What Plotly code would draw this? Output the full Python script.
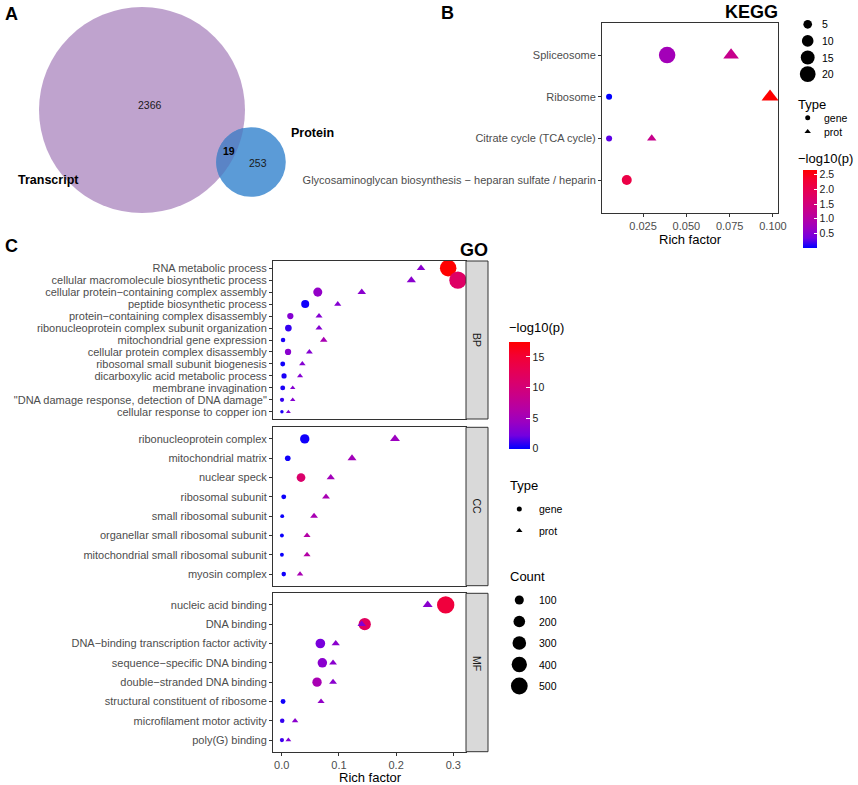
import math
import plotly.graph_objects as go

W, H = 858, 785
FONT = "Liberation Sans, Arial, Helvetica, sans-serif"

# ---------------- Panel A : Venn ----------------
venn_names = ["Transcript", "Protein"]
venn_only_transcript = 2366
venn_overlap = 19
venn_only_protein = 253

# ---------------- Panel B : KEGG ----------------
kegg_terms = ["Spliceosome", "Ribosome", "Citrate cycle (TCA cycle)",
              "Glycosaminoglycan biosynthesis − heparan sulfate / heparin"]
kegg_gene_rich = [0.0389, 0.0054, 0.0054, 0.0156]
kegg_gene_count = [22, 2, 2, 7]
kegg_gene_logp = [0.78, 0.0, 0.27, 2.1]
kegg_prot_rich = [0.0758, 0.0983, 0.0300, None]
kegg_prot_count = [10, 12, 3, None]
kegg_prot_logp = [1.28, 2.66, 1.30, None]
kegg_size_breaks = [5, 10, 15, 20]
kegg_color_ticks = [0.5, 1.0, 1.5, 2.0, 2.5]

# ---------------- Panel C : GO ----------------
bp_terms = ["RNA metabolic process", "cellular macromolecule biosynthetic process",
            "cellular protein−containing complex assembly", "peptide biosynthetic process",
            "protein−containing complex disassembly", "ribonucleoprotein complex subunit organization",
            "mitochondrial gene expression", "cellular protein complex disassembly",
            "ribosomal small subunit biogenesis", "dicarboxylic acid metabolic process",
            "membrane invagination", "\"DNA damage response, detection of DNA damage\"",
            "cellular response to copper ion"]
bp_gene_rich = [0.291, 0.308, 0.063, 0.041, 0.015, 0.0116, 0.0023, 0.011, 0.0017, 0.004, 0.0017, 0.0005, 0.0003]
bp_gene_count = [480, 530, 100, 70, 31, 39, 8, 31, 11, 15, 11, 5, 1]
bp_gene_logp = [17.5, 11.5, 4.0, 0.3, 3.2, 1.0, 0.5, 3.5, 0.3, 0.5, 0.5, 1.0, 0.5]
bp_prot_rich = [0.2435, 0.2266, 0.1399, 0.0979, 0.0652, 0.0652, 0.0734, 0.0483, 0.036, 0.032, 0.0192, 0.0192, 0.0116]
bp_prot_count = [33, 43, 33, 16, 16, 16, 21, 14, 11, 8, 4, 4, 2]
bp_prot_logp = [3.5, 3.5, 3.5, 3.2, 3.2, 3.2, 5.5, 3.2, 3.2, 3.2, 3.2, 3.2, 2.8]

cc_terms = ["ribonucleoprotein complex", "mitochondrial matrix", "nuclear speck", "ribosomal subunit",
            "small ribosomal subunit", "organellar small ribosomal subunit",
            "mitochondrial small ribosomal subunit", "myosin complex"]
cc_gene_rich = [0.0402, 0.0105, 0.0337, 0.0035, 0.0008, 0.0003, 0.0003, 0.0035]
cc_gene_count = [110, 21, 90, 11, 3, 3, 3, 8]
cc_gene_logp = [0.3, 0.3, 11.0, 0.2, 0.2, 0.2, 0.2, 0.3]
cc_prot_rich = [0.198, 0.1229, 0.0857, 0.0774, 0.0565, 0.0442, 0.0442, 0.032]
cc_prot_count = [55, 39, 29, 24, 24, 16, 16, 11]
cc_prot_logp = [4.5, 5.0, 5.0, 5.5, 5.5, 6.5, 6.5, 5.5]

mf_terms = ["nucleic acid binding", "DNA binding", "DNA−binding transcription factor activity",
            "sequence−specific DNA binding", "double−stranded DNA binding",
            "structural constituent of ribosome", "microfilament motor activity", "poly(G) binding"]
mf_gene_rich = [0.2867, 0.1451, 0.0675, 0.071, 0.0617, 0.0023, 0.0008, 0.0003]
mf_gene_count = [540, 230, 120, 115, 110, 11, 8, 5]
mf_gene_logp = [14.5, 12.0, 2.5, 3.5, 5.5, 0.3, 1.0, 1.2]
mf_prot_rich = [0.2552, 0.1399, 0.0944, 0.0897, 0.0897, 0.0687, 0.0233, 0.0116]
mf_prot_count = [55, 33, 29, 24, 24, 16, 11, 6]
mf_prot_logp = [3.5, 3.2, 3.5, 3.5, 3.5, 4.0, 3.5, 3.0]

go_size_breaks = [100, 200, 300, 400, 500]
go_color_ticks = [0, 5, 10, 15]

# ---------------- helpers ----------------
def xp(px):
    return px / W

def yp(py):
    return 1 - py / H

CS = [[0.0, "#0000FF"], [0.125, "#7300E0"], [0.25, "#9A00C2"], [0.375, "#B500A5"],
      [0.5, "#C90088"], [0.625, "#DA006C"], [0.75, "#E80050"], [0.875, "#F40031"], [1.0, "#FF0000"]]
TRI = 1.166  # triangle vs circle size ratio (ggplot pch 17 vs 16)

def d_kegg(c):
    return 1.5 + 15 * math.sqrt(c / 22)

def d_go(c):
    return 2.8 + 14.8 * math.sqrt(c / 560)

TICKFONT = dict(family=FONT, size=11, color="#4D4D4D")
LINE = "#333333"

fig = go.Figure()

# ---------------- KEGG traces ----------------
fig.add_trace(go.Scatter(
    x=kegg_gene_rich, y=kegg_terms, mode="markers", xaxis="x", yaxis="y",
    marker=dict(symbol="circle", size=[d_kegg(c) for c in kegg_gene_count], opacity=1,
                color=kegg_gene_logp, coloraxis="coloraxis", line=dict(width=0)),
    showlegend=False, hoverinfo="skip"))
kp = [(x, t, c, p) for x, t, c, p in zip(kegg_prot_rich, kegg_terms, kegg_prot_count, kegg_prot_logp) if x is not None]
fig.add_trace(go.Scatter(
    x=[k[0] for k in kp], y=[k[1] for k in kp], mode="markers", xaxis="x", yaxis="y",
    marker=dict(symbol="triangle-up", size=[d_kegg(k[2]) * TRI for k in kp], opacity=1,
                color=[k[3] for k in kp], coloraxis="coloraxis", line=dict(width=0)),
    showlegend=False, hoverinfo="skip"))

# ---------------- GO traces ----------------
panels = [
    ("BP", bp_terms, bp_gene_rich, bp_gene_count, bp_gene_logp, bp_prot_rich, bp_prot_count, bp_prot_logp, 261, 419),
    ("CC", cc_terms, cc_gene_rich, cc_gene_count, cc_gene_logp, cc_prot_rich, cc_prot_count, cc_prot_logp, 427.3, 585.7),
    ("MF", mf_terms, mf_gene_rich, mf_gene_count, mf_gene_logp, mf_prot_rich, mf_prot_count, mf_prot_logp, 593.3, 751.7),
]
GO_LEFT, GO_RIGHT, STRIP_RIGHT = 273, 466, 488
shapes = []
annotations = []
layout_axes = {}
for i, (name, terms, gr, gc, gl, pr, pc, pl, top, bot) in enumerate(panels):
    n = i + 2
    xa, ya = f"x{n}", f"y{n}"
    fig.add_trace(go.Scatter(
        x=gr, y=terms, mode="markers", xaxis=xa, yaxis=ya,
        marker=dict(symbol="circle", size=[d_go(c) for c in gc], color=gl, opacity=1,
                    coloraxis="coloraxis2", line=dict(width=0)),
        showlegend=False, hoverinfo="skip"))
    fig.add_trace(go.Scatter(
        x=pr, y=terms, mode="markers", xaxis=xa, yaxis=ya,
        marker=dict(symbol="triangle-up", size=[d_go(c) * TRI for c in pc], color=pl, opacity=1,
                    coloraxis="coloraxis2", line=dict(width=0)),
        showlegend=False, hoverinfo="skip"))
    last = (name == "MF")
    layout_axes[f"xaxis{n}"] = dict(
        domain=[xp(GO_LEFT), xp(GO_RIGHT)], range=[-0.0153, 0.3222], anchor=ya,
        showline=True, mirror=True, linecolor=LINE, linewidth=1, showgrid=False, zeroline=False,
        ticks="outside" if last else "", ticklen=3, tickcolor=LINE, tickwidth=0.8,
        showticklabels=last, tickvals=[0, 0.1, 0.2, 0.3], ticktext=["0.0", "0.1", "0.2", "0.3"],
        tickfont=TICKFONT, fixedrange=True)
    layout_axes[f"yaxis{n}"] = dict(
        domain=[yp(bot), yp(top)], type="category", categoryarray=list(reversed(terms)),
        tickmode="array", tickvals=terms, ticktext=terms,
        range=[-0.6, len(terms) - 0.4], anchor=xa,
        showline=True, mirror=True, linecolor=LINE, linewidth=1, showgrid=False, zeroline=False,
        ticks="outside", ticklen=3, tickcolor=LINE, tickwidth=0.8, tickfont=TICKFONT, fixedrange=True)
    shapes.append(dict(type="rect", xref="paper", yref="paper", x0=xp(GO_RIGHT), x1=xp(STRIP_RIGHT),
                       y0=yp(bot), y1=yp(top), fillcolor="#D9D9D9", line=dict(color=LINE, width=1)))
    annotations.append(dict(xref="paper", yref="paper", x=xp((GO_RIGHT + STRIP_RIGHT) / 2),
                            y=yp((top + bot) / 2), text=name, textangle=90, showarrow=False,
                            font=dict(family=FONT, size=10.5, color="#1A1A1A")))

# ---------------- Venn (overlay pixel axis x5/y5) ----------------
k = 103 / math.sqrt(venn_only_transcript + venn_overlap)
r1 = k * math.sqrt(venn_only_transcript + venn_overlap)
r2 = k * math.sqrt(venn_only_protein + venn_overlap)
c1 = (142, 110)
c2 = (251, 162)

def lens_path(c1, r1, c2, r2, n=48):
    dx, dy = c2[0] - c1[0], c2[1] - c1[1]
    d = math.hypot(dx, dy)
    a = (r1 * r1 - r2 * r2 + d * d) / (2 * d)
    alpha = math.atan2(dy, dx)
    b1 = math.acos(a / r1)
    b2 = math.acos((d - a) / r2)
    pts = []
    for j in range(n + 1):
        t = -b1 + 2 * b1 * j / n
        pts.append((c1[0] + r1 * math.cos(alpha + t), c1[1] + r1 * math.sin(alpha + t)))
    for j in range(n + 1):
        t = -b2 + 2 * b2 * j / n
        pts.append((c2[0] + r2 * math.cos(alpha + math.pi + t), c2[1] + r2 * math.sin(alpha + math.pi + t)))
    return "M " + " L ".join(f"{x:.2f},{y:.2f}" for x, y in pts) + " Z"

shapes.append(dict(type="circle", xref="x5", yref="y5", x0=c1[0] - r1, x1=c1[0] + r1,
                   y0=c1[1] - r1, y1=c1[1] + r1, fillcolor="#BFA3CE", line=dict(width=0), layer="below"))
shapes.append(dict(type="circle", xref="x5", yref="y5", x0=c2[0] - r2, x1=c2[0] + r2,
                   y0=c2[1] - r2, y1=c2[1] + r2, fillcolor="#5B9BD7", line=dict(width=0), layer="below"))
shapes.append(dict(type="path", xref="x5", yref="y5", path=lens_path(c1, r1, c2, r2),
                   fillcolor="#5A84C6", line=dict(width=0), layer="below"))

def ann(x, y, text, size=10.5, bold=False, xanchor="center", color="#000000", yanchor="middle"):
    t = f"<b>{text}</b>" if bold else text
    annotations.append(dict(xref="x5", yref="y5", x=x, y=y, text=t, showarrow=False,
                            xanchor=xanchor, yanchor=yanchor, borderpad=0,
                            font=dict(family=FONT, size=size, color=color)))

ann(150, 105, str(venn_only_transcript), 10.5, color="#1A1A1A")
ann(229, 151, str(venn_overlap), 10.5, bold=True)
ann(258, 163, str(venn_only_protein), 10.5, color="#1A1A1A")
ann(48, 180, venn_names[0], 12.5, bold=True)
ann(312, 133, venn_names[1], 12.5, bold=True)

# panel letters & titles
ann(4, 14, "A", 18, bold=True, xanchor="left")
ann(447, 13, "B", 18, bold=True)
ann(4, 246, "C", 18, bold=True, xanchor="left")
ann(779, 12, "KEGG", 18, bold=True, xanchor="right")
ann(489, 250, "GO", 18, bold=True, xanchor="right")
ann(690, 239, "Rich factor", 13)
ann(370, 777, "Rich factor", 13)

# KEGG legends
KX, KLX = 807.7, 821
ks_y0, ks_step = 24.3, 16.6
ks_y = [ks_y0 + j * ks_step for j in range(len(kegg_size_breaks))]
fig.add_trace(go.Scatter(x=[KX] * len(kegg_size_breaks), y=ks_y, mode="markers", xaxis="x5", yaxis="y5",
                         marker=dict(symbol="circle", size=[d_kegg(b) for b in kegg_size_breaks],
                                     color="#000000", opacity=1, line=dict(width=0)),
                         showlegend=False, hoverinfo="skip"))
for b, yy in zip(kegg_size_breaks, ks_y):
    ann(KLX, yy, str(b), 10.5, xanchor="left")
ann(797, 104, "Type", 13, xanchor="left")
fig.add_trace(go.Scatter(x=[KX, KX], y=[117.7, 131.7], mode="markers", xaxis="x5", yaxis="y5",
                         marker=dict(symbol=["circle", "triangle-up"], size=[5, 5.6],
                                     color="#000000", opacity=1, line=dict(width=0)),
                         showlegend=False, hoverinfo="skip"))
ann(823, 117.7, "gene", 10.5, xanchor="left")
ann(823, 131.7, "prot", 10.5, xanchor="left")
ann(797, 158, "−log10(p)", 13, xanchor="left")

# GO legends
GX, GLX = 519.3, 537.7
ann(508, 327, "−log10(p)", 13, xanchor="left")
ann(509, 485, "Type", 13, xanchor="left")
fig.add_trace(go.Scatter(x=[GX, GX], y=[509, 530.7], mode="markers", xaxis="x5", yaxis="y5",
                         marker=dict(symbol=["circle", "triangle-up"], size=[5, 5.6],
                                     color="#000000", opacity=1, line=dict(width=0)),
                         showlegend=False, hoverinfo="skip"))
ann(GLX, 509, "gene", 10.5, xanchor="left")
ann(GLX, 530.7, "prot", 10.5, xanchor="left")
ann(509, 576, "Count", 13, xanchor="left")
gs_y0, gs_step = 600, 21.5
gs_y = [gs_y0 + j * gs_step for j in range(len(go_size_breaks))]
fig.add_trace(go.Scatter(x=[GX] * len(go_size_breaks), y=gs_y, mode="markers", xaxis="x5", yaxis="y5",
                         marker=dict(symbol="circle", size=[d_go(b) for b in go_size_breaks],
                                     color="#000000", opacity=1, line=dict(width=0)),
                         showlegend=False, hoverinfo="skip"))
for b, yy in zip(go_size_breaks, gs_y):
    ann(GLX, yy, str(b), 10.5, xanchor="left")

CBFONT = dict(family=FONT, size=10.5, color="#1A1A1A")
fig.update_layout(
    width=W, height=H, margin=dict(l=0, r=0, t=0, b=0, autoexpand=False),
    paper_bgcolor="white", plot_bgcolor="rgba(0,0,0,0)", showlegend=False, hovermode=False,
    xaxis=dict(domain=[xp(602), xp(778)], range=[0.0013, 0.1029], anchor="y",
               tickvals=[0.025, 0.05, 0.075, 0.1], ticktext=["0.025", "0.050", "0.075", "0.100"],
               showline=True, mirror=True, linecolor=LINE, linewidth=1, showgrid=False, zeroline=False,
               ticks="outside", ticklen=3, tickcolor=LINE, tickwidth=0.8, tickfont=TICKFONT, fixedrange=True),
    yaxis=dict(domain=[yp(213), yp(23)], type="category", categoryarray=list(reversed(kegg_terms)),
               tickmode="array", tickvals=kegg_terms, ticktext=kegg_terms,
               range=[-0.79, 3.77], anchor="x",
               showline=True, mirror=True, linecolor=LINE, linewidth=1, showgrid=False, zeroline=False,
               ticks="outside", ticklen=3, tickcolor=LINE, tickwidth=0.8, tickfont=TICKFONT, fixedrange=True),
    xaxis5=dict(domain=[0, 1], range=[0, W], anchor="y5", visible=False, fixedrange=True),
    yaxis5=dict(domain=[0, 1], range=[H, 0], anchor="x5", visible=False, fixedrange=True),
    coloraxis=dict(cmin=0, cmax=2.66, colorscale=CS,
                   colorbar=dict(x=xp(803), xanchor="left", y=yp(170), yanchor="top",
                                 len=78, lenmode="pixels", thickness=14, thicknessmode="pixels",
                                 xpad=0, ypad=0, outlinewidth=0, title=dict(text=""),
                                 tickvals=kegg_color_ticks, ticktext=[f"{v:.1f}" for v in kegg_color_ticks],
                                 ticks="inside", ticklen=3, tickcolor="white", tickfont=CBFONT)),
    coloraxis2=dict(cmin=0, cmax=17.5, colorscale=CS,
                    colorbar=dict(x=xp(509), xanchor="left", y=yp(341.7), yanchor="top",
                                  len=107, lenmode="pixels", thickness=21, thicknessmode="pixels",
                                  xpad=0, ypad=0, outlinewidth=0, title=dict(text=""),
                                  tickvals=go_color_ticks, ticktext=[str(v) for v in go_color_ticks],
                                  ticks="inside", ticklen=4, tickcolor="white", tickfont=CBFONT)),
    shapes=shapes, annotations=annotations,
    **layout_axes,
)

fig.write_html("out.html", config={"displayModeBar": False},
               post_script="document.body.style.margin='0';document.body.style.padding='0';")
